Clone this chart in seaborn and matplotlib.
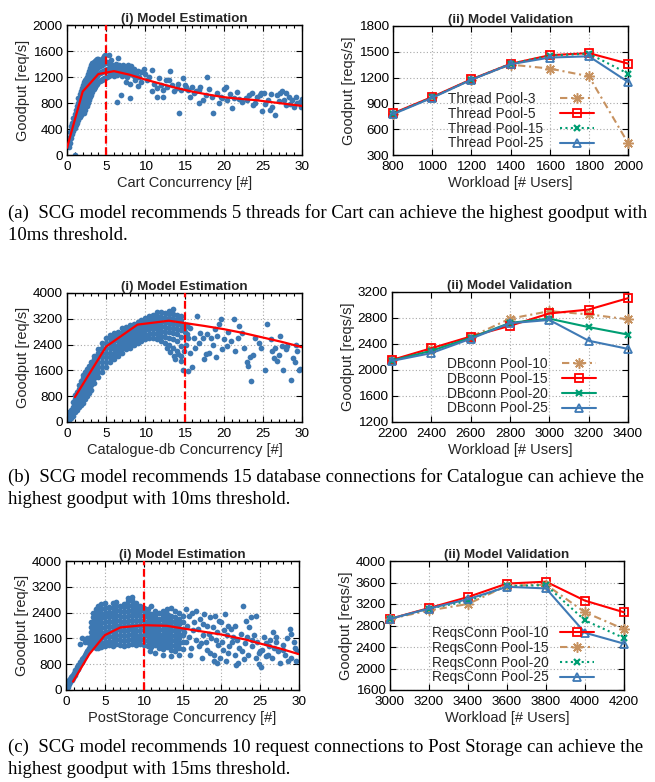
import matplotlib
matplotlib.use("Agg")
import matplotlib.pyplot as plt
from matplotlib.ticker import MultipleLocator
import seaborn as sns
import pandas as pd

# ---------------- data ----------------
conc_ticks = [0, 5, 10, 15, 20, 25, 30]

# (a) Cart
cart_curve_x = [0, 2, 4, 6, 8, 10, 12, 14, 16, 18, 20, 22, 24, 26, 28, 30]
cart_curve_y = [110, 975, 1245, 1290, 1235, 1160, 1095, 1030, 975, 930, 890, 865, 845, 815, 785, 755]
cart_best = 5
cart_rise_cols = [
    (0.2, [120, 220]), (0.35, [180, 280, 360]), (0.5, [260, 360, 440]),
    (0.65, [320, 420, 500]), (0.8, [370, 470, 570]), (1.0, [5, 420, 520, 630]),
    (1.15, [460, 570, 690]), (1.3, [500, 620, 750]), (1.45, [540, 660, 800, 880]),
    (1.6, [580, 700, 820, 940]), (1.75, [610, 740, 870, 990]), (1.9, [640, 780, 910, 1030]),
    (2.05, [670, 810, 950, 1080]), (2.2, [640, 760, 880, 1000, 1120]),
    (2.35, [700, 820, 940, 1060, 1160]), (2.5, [750, 870, 990, 1110, 1200]),
    (2.65, [800, 920, 1040, 1160, 1250]), (2.8, [850, 970, 1090, 1210, 1300]),
    (2.95, [890, 1010, 1130, 1250, 1340]), (3.1, [930, 1050, 1170, 1290, 1380]),
    (3.25, [970, 1090, 1210, 1330, 1410]), (3.4, [1010, 1130, 1250, 1360, 1430]),
    (3.55, [1050, 1170, 1290, 1390, 1450]), (3.7, [1080, 1200, 1320, 1410, 1460]),
    (3.85, [1100, 1220, 1340, 1430, 1470]), (4.0, [1120, 1240, 1360, 1440, 1480]),
    (4.15, [1140, 1260, 1370, 1450]), (4.3, [1150, 1270, 1380, 1460]),
    (4.45, [1160, 1280, 1390, 1480]), (4.6, [1170, 1290, 1400, 1500]),
    (4.75, [1180, 1300, 1410, 1520]), (4.9, [1190, 1310, 1420, 1540]),
    (5.05, [1200, 1320, 1430]),
]
cart_tail_pts = [
    (5.2, 1300), (5.3, 1400), (5.3, 1540), (5.4, 1220), (5.5, 1340), (5.6, 1460), (5.7, 1260),
    (5.8, 1380), (5.9, 1300), (6.0, 1220), (6.1, 1350), (6.2, 1280), (6.3, 1400), (6.4, 1230),
    (6.5, 1320), (6.5, 1490), (6.6, 1380), (6.8, 1260), (6.9, 1340), (7.0, 1210), (7.1, 1380),
    (7.2, 1300), (7.3, 1240), (7.4, 1360), (7.5, 1280), (7.6, 1340), (7.7, 1200), (7.8, 1380),
    (7.9, 1300), (8.0, 1340), (8.1, 1250), (8.2, 1370), (8.3, 1300), (8.5, 1220), (8.6, 1330),
    (8.8, 1260), (9.0, 1300), (9.2, 1200), (9.5, 1280), (9.8, 1320), (10.0, 1250),
    (6.4, 820), (6.9, 920), (8.0, 870), (8.0, 1100), (9.1, 1060), (7.5, 1130), (8.7, 1150),
    (9.5, 1120), (10.2, 1150), (10.8, 1310), (11.1, 1100), (11.5, 1030), (11.5, 900), (10.9, 980),
    (12.3, 900), (12.0, 1080), (12.6, 1150), (13.1, 1300), (13.4, 1080), (14.0, 1030), (14.3, 640),
    (14.8, 1180), (14.6, 1000), (13.6, 980), (12.8, 1050), (11.8, 1180), (10.5, 1200),
    (15.2, 1050), (15.7, 900), (16.2, 950), (16.0, 1040), (16.8, 800), (17.0, 1050), (17.4, 850),
    (17.9, 1200), (18.1, 1020), (18.7, 640), (19.1, 950), (19.4, 800), (19.6, 900), (20.0, 1020),
    (20.3, 1040), (20.4, 850), (21.0, 720), (21.7, 970), (22.3, 820), (22.8, 870), (23.2, 920),
    (23.6, 950), (23.8, 770), (24.3, 900), (24.6, 920), (24.9, 670), (25.1, 950), (25.7, 850),
    (26.2, 745), (26.5, 615), (26.8, 920), (27.2, 960), (27.5, 980), (27.7, 850), (28.0, 770),
    (28.3, 900), (28.7, 850), (29.0, 745), (29.4, 800), (29.7, 820), (29.9, 745), (30.0, 860),
    (15.5, 1000), (16.5, 980), (18.5, 900), (19.8, 870), (21.3, 880), (22.0, 860), (24.0, 800),
    (25.3, 780), (26.0, 940), (27.0, 830), (28.5, 780), (29.2, 900), (17.7, 920), (20.8, 940),
    (23.0, 840), (25.9, 700), (27.9, 960), (24.8, 960), (15.0, 1070), (14.2, 1100), (12.3, 1000),
    (13.0, 1150), (16.9, 1000),
]

# (b) Catalogue-db
cat_curve_x = [1, 5, 9, 13, 15, 17.5, 20, 22.5, 25, 27.5, 30]
cat_curve_y = [770, 2340, 3020, 3140, 3070, 2980, 2880, 2760, 2620, 2480, 2320]
cat_best = 15
cat_band_cols = [
    (0.1, [20, 120]), (0.3, [60, 180, 300]), (0.5, [120, 250, 380]),
    (0.75, [200, 340, 480, 620]), (1.0, [300, 440, 580, 720, 850]),
    (1.25, [380, 520, 660, 800, 940]), (1.5, [460, 600, 740, 880, 1020, 1150]),
    (1.75, [520, 680, 830, 980, 1130, 1280]), (2.0, [600, 750, 900, 1050, 1200, 1350, 1450]),
    (2.25, [700, 850, 1000, 1150, 1300, 1450, 1550]), (2.5, [800, 950, 1100, 1250, 1400, 1550, 1650]),
    (2.75, [900, 1050, 1200, 1350, 1500, 1650, 1750]), (3.0, [1000, 1150, 1300, 1450, 1600, 1750, 1850]),
    (3.5, [1200, 1350, 1500, 1650, 1800, 1950, 2050]), (4.0, [1400, 1550, 1700, 1850, 2000, 2150, 2250]),
    (4.5, [1550, 1700, 1850, 2000, 2150, 2300, 2450]), (5.0, [1700, 1850, 2000, 2150, 2300, 2450, 2600]),
    (5.5, [1850, 2000, 2150, 2300, 2450, 2600, 2700]), (6.0, [1950, 2100, 2250, 2400, 2550, 2700, 2750]),
    (6.5, [2050, 2200, 2350, 2500, 2650, 2800]), (7.0, [2150, 2300, 2450, 2600, 2750, 2900]),
    (7.5, [2250, 2400, 2550, 2700, 2850, 2950]), (8.0, [2300, 2450, 2600, 2750, 2900, 3000]),
    (8.5, [2400, 2550, 2700, 2850, 3000, 3050]), (9.0, [2450, 2600, 2750, 2900, 3050, 3100]),
    (9.5, [2500, 2650, 2800, 2950, 3100, 3150]), (10.0, [2560, 2700, 2840, 2980, 3120, 3240]),
    (10.5, [2600, 2740, 2880, 3020, 3160, 3290]), (11.0, [2620, 2760, 2900, 3040, 3180, 3330]),
    (11.5, [2560, 2720, 2870, 3010, 3150, 3290, 3400]), (12.0, [2500, 2680, 2830, 2970, 3110, 3250, 3400]),
    (12.5, [2450, 2640, 2800, 2950, 3090, 3230, 3380]),
    (13.0, [2400, 2600, 2780, 2930, 3070, 3210, 3350, 3450]),
    (13.5, [2300, 2560, 2760, 2900, 3050, 3200, 3350, 3500]),
    (14.0, [2200, 2500, 2720, 2880, 3030, 3180, 3330]),
    (14.5, [2050, 2350, 2640, 2850, 3000, 3150, 3280]),
]
cat_tail_pts = [
    (1.2, 690), (13.2, 2180), (13.8, 1950), (14.2, 2100), (14.8, 1610), (14.6, 1900), (12.8, 2300),
    (13.6, 2050), (14.9, 2200), (15.2, 2400), (15.4, 2600), (15.0, 2800), (15.3, 3000), (15.1, 2950),
    (15.5, 1590), (16.0, 1690), (15.7, 2150), (16.6, 3280), (17.0, 2770), (17.3, 2620), (17.5, 1950),
    (17.7, 2100), (17.9, 2720), (18.1, 2150), (18.4, 2620), (18.9, 2870), (19.2, 2670), (19.4, 3030),
    (19.6, 3180), (19.8, 2250), (20.0, 2560), (20.4, 2360), (20.9, 2510), (21.3, 3180), (21.8, 2620),
    (22.0, 2970), (22.3, 2770), (22.6, 2310), (23.0, 1850), (23.1, 1730), (23.3, 2000), (23.5, 1260),
    (23.8, 2080), (24.0, 2620), (24.5, 2460), (25.3, 1620), (25.5, 3030), (26.0, 2560), (26.2, 2200),
    (26.4, 1990), (26.6, 2310), (26.8, 1890), (27.0, 2080), (27.2, 2670), (27.6, 1620), (27.9, 2250),
    (28.1, 2360), (28.6, 1290), (28.9, 1990), (29.1, 1850), (29.4, 2200), (29.6, 1620), (29.8, 1650),
    (15.3, 2720), (15.7, 2920), (16.2, 2620), (16.4, 2300), (16.8, 2450), (18.6, 2400), (19.0, 2000),
    (20.6, 2800), (21.5, 2200), (24.8, 2300), (27.4, 2350), (29.2, 2400),
]

# (c) PostStorage
post_curve_x = [0.9, 3, 5, 7, 10, 13, 15, 20, 23, 25, 27.5, 30]
post_curve_y = [260, 1110, 1700, 1940, 2010, 1990, 1910, 1720, 1570, 1440, 1290, 1110]
post_best = 10
post_rise_pts = [
    (0.1, 100), (0.2, 80), (0.2, 180), (0.3, 140), (0.3, 240), (0.4, 200), (0.4, 300), (0.5, 250),
    (0.5, 350), (0.6, 300), (0.6, 400), (0.7, 350), (0.8, 300), (0.8, 420), (0.9, 380), (0.9, 470),
    (1.0, 430), (1.0, 520), (1.1, 480), (1.2, 520), (1.2, 610), (1.3, 560), (1.4, 620), (1.4, 700),
    (1.5, 650), (1.6, 700), (1.6, 780), (1.7, 740), (1.8, 800), (1.8, 880), (1.9, 850), (2.0, 880),
    (2.0, 960), (2.1, 930), (2.2, 980), (2.3, 1020), (2.4, 1060), (2.5, 1100), (2.6, 1150),
    (2.7, 1200), (2.8, 1250), (2.9, 1300), (1.8, 1440), (2.1, 1600), (2.4, 1500), (2.7, 1620),
]
post_blob_cols = [
    (2.9, [1450, 1600]),
    (3.2, [1350, 1500, 1650, 1800, 1950, 2100]),
    (3.5, [1350, 1500, 1650, 1800, 1950, 2100, 2250, 2400]),
    (3.8, [1300, 1450, 1600, 1750, 1900, 2050, 2200, 2350, 2500]),
    (4.1, [1300, 1450, 1600, 1750, 1900, 2050, 2200, 2350, 2500, 2620]),
    (4.5, [1320, 1470, 1620, 1770, 1920, 2070, 2220, 2370, 2520, 2680]),
    (5.0, [1350, 1500, 1650, 1800, 1950, 2100, 2250, 2400, 2550, 2700]),
    (5.5, [1380, 1530, 1680, 1830, 1980, 2130, 2280, 2430, 2580]),
    (6.0, [1350, 1500, 1650, 1800, 1950, 2100, 2250, 2400, 2550, 2700]),
    (6.5, [1420, 1570, 1720, 1870, 2020, 2170, 2320, 2470, 2620, 2740]),
    (7.0, [1400, 1550, 1700, 1850, 2000, 2150, 2300, 2450, 2600]),
    (7.5, [1370, 1520, 1670, 1820, 1970, 2120, 2270, 2420, 2570, 2680]),
    (8.0, [1400, 1550, 1700, 1850, 2000, 2150, 2300, 2450, 2600, 2750, 2850]),
    (8.5, [1430, 1580, 1730, 1880, 2030, 2180, 2330, 2480, 2630, 2780, 2880]),
    (9.0, [1380, 1530, 1680, 1830, 1980, 2130, 2280, 2430, 2580, 2700]),
    (9.5, [1420, 1570, 1720, 1870, 2020, 2170, 2320, 2470, 2600]),
    (10.0, [1400, 1550, 1700, 1850, 2000, 2150, 2300, 2450, 2550]),
    (10.5, [1360, 1510, 1660, 1810, 1960, 2110, 2260, 2400, 2500]),
    (11.0, [1320, 1470, 1620, 1770, 1920, 2070, 2220, 2370, 2600]),
    (11.5, [1380, 1530, 1680, 1830, 1980, 2130, 2280, 2450]),
    (12.0, [1300, 1450, 1600, 1750, 1900, 2050, 2200, 2380]),
    (12.5, [1260, 1410, 1560, 1710, 1860, 2010, 2160, 2300, 2450]),
    (13.0, [1320, 1470, 1620, 1770, 1920, 2070, 2220, 2370, 2500]),
    (13.5, [1250, 1400, 1550, 1700, 1850, 2000, 2150, 2300, 2550]),
    (14.0, [1220, 1370, 1520, 1670, 1820, 1970, 2120, 2270, 2450]),
    (14.5, [1300, 1450, 1600, 1750, 1900, 2050, 2200, 2400]),
    (15.0, [1280, 1480, 1700, 1900, 2100, 2300]),
]
post_tail_pts = [
    (11.5, 1150), (12.5, 1100), (13.5, 1050), (14.5, 1100), (10.8, 1200),
    (15.5, 2500), (15.8, 2300), (16.2, 2400), (16.5, 2100), (16.8, 2450), (17.0, 1900), (17.3, 2200),
    (17.6, 1700), (17.8, 2350), (18.0, 1500), (18.2, 2000), (18.5, 2250), (18.7, 1600), (19.0, 1100),
    (19.0, 900), (19.2, 2300), (19.4, 1800), (19.6, 1400), (19.8, 1000), (20.0, 2100), (20.2, 1250),
    (20.5, 2350), (20.7, 1700), (20.9, 1150), (21.2, 1900), (21.4, 1500), (21.7, 2000), (21.9, 760),
    (22.1, 850), (22.3, 1300), (22.5, 1750), (22.8, 2620), (23.0, 1450), (23.2, 2150), (23.4, 1100),
    (23.6, 1950), (23.8, 2250), (24.0, 1350), (24.2, 1700), (24.4, 1000), (24.6, 1500), (24.9, 800),
    (25.1, 700), (25.3, 1250), (25.5, 1650), (25.8, 1450), (26.0, 1100), (26.3, 1550), (26.6, 1800),
    (26.8, 1300), (27.1, 1500), (27.3, 1200), (27.6, 850), (27.9, 1400), (28.2, 1100), (28.5, 1600),
    (28.8, 1900), (29.0, 1000), (29.3, 1500), (29.6, 900), (29.8, 1200),
    (15.2, 1800), (15.4, 1500), (15.6, 2000), (15.9, 1650), (16.1, 1300), (16.4, 1850), (16.7, 1550),
    (17.1, 1350), (17.4, 1450), (17.7, 2050), (18.1, 1250), (18.4, 1750), (18.9, 1950), (19.3, 1550),
    (19.7, 2150), (20.1, 1500), (20.4, 1850), (20.8, 2000), (21.0, 1350), (21.5, 1650), (22.0, 1550),
    (22.6, 1200), (23.3, 1650), (23.9, 1550), (24.5, 2300), (25.0, 1200), (25.7, 1050), (26.2, 1350),
    (27.0, 1650), (28.0, 1250), (29.0, 1750), (29.5, 1300), (16.0, 1100), (17.5, 1000), (18.6, 1150),
    (19.5, 850), (20.6, 900), (21.8, 1100), (22.9, 950), (24.8, 1150), (26.5, 1000), (28.6, 900),
]

# validation panels
thread_workload = [800, 1000, 1200, 1400, 1600, 1800, 2000]
thread_labels = ["Thread Pool-3  ", "Thread Pool-5  ", "Thread Pool-15", "Thread Pool-25"]
thread_pool3 = [780, 970, 1177, 1351, 1305, 1216, 440]
thread_pool5 = [785, 975, 1180, 1360, 1460, 1485, 1363]
thread_pool15 = [780, 970, 1177, 1360, 1455, 1479, 1247]
thread_pool25 = [775, 965, 1175, 1355, 1433, 1448, 1150]

db_workload = [2200, 2400, 2600, 2800, 3000, 3200, 3400]
db_labels = ["DBconn Pool-10", "DBconn Pool-15", "DBconn Pool-20", "DBconn Pool-25"]
db_pool10 = [2150, 2320, 2508, 2790, 2905, 2856, 2780]
db_pool15 = [2155, 2335, 2515, 2680, 2870, 2930, 3105]
db_pool20 = [2145, 2295, 2495, 2725, 2790, 2660, 2545]
db_pool25 = [2140, 2260, 2480, 2720, 2770, 2450, 2325]

req_workload = [3000, 3200, 3400, 3600, 3800, 4000, 4200]
req_labels = ["ReqsConn Pool-10", "ReqsConn Pool-15", "ReqsConn Pool-20", "ReqsConn Pool-25"]
req_pool10 = [2923, 3125, 3330, 3580, 3615, 3262, 3046]
req_pool15 = [2923, 3080, 3200, 3540, 3560, 3046, 2732]
req_pool20 = [2923, 3115, 3255, 3535, 3550, 2895, 2566]
req_pool25 = [2923, 3115, 3290, 3520, 3490, 2665, 2462]

captions = [
    ("(a)  SCG model recommends 5 threads for Cart can achieve the highest goodput with",
     "10ms threshold."),
    ("(b)  SCG model recommends 15 database connections for Catalogue can achieve the",
     "highest goodput with 10ms threshold."),
    ("(c)  SCG model recommends 10 request connections to Post Storage can achieve the",
     "highest goodput with 15ms threshold."),
]

# ---------------- style ----------------
sns.set_theme(style="ticks")
plt.rcParams["font.family"] = ["Liberation Sans", "DejaVu Sans"]
plt.rcParams["axes.unicode_minus"] = False

SCAT = "#3d78b2"
RED = "#ff0000"
TAN = "#c79260"
GREEN = "#009e73"
BLUE = "#3f7ab5"
DASHDOT = (0, (3.5, 1.8, 1.0, 1.8))
DOTTED = (0, (1.0, 1.6))

W, H = 655, 782
fig = plt.figure(figsize=(W / 100, H / 100), dpi=100)


def add_ax(l, t, r, b):
    return fig.add_axes([l / W, 1 - b / H, (r - l) / W, (b - t) / H])


def style(ax, xlim, ylim, xstep, ystep, xminor=None):
    ax.set_xlim(*xlim)
    ax.set_ylim(*ylim)
    ax.xaxis.set_major_locator(MultipleLocator(xstep))
    ax.yaxis.set_major_locator(MultipleLocator(ystep))
    if xminor:
        ax.xaxis.set_minor_locator(MultipleLocator(xminor))
    ax.grid(True, which="major", color="#a8a8a8", linestyle=(0, (1, 2)), linewidth=0.8)
    ax.set_axisbelow(True)
    ax.tick_params(which="both", direction="in", top=True, right=True, colors="black",
                   labelsize=9.7, width=0.8)
    ax.tick_params(axis="x", pad=4.5)
    ax.tick_params(axis="y", pad=3)
    ax.tick_params(which="major", length=4)
    ax.tick_params(which="minor", length=2)
    for sp in ax.spines.values():
        sp.set_color("black")
        sp.set_linewidth(1.0)


def cols_to_xy(cols):
    xs, ys = [], []
    for x, yl in cols:
        for y in yl:
            xs.append(x)
            ys.append(y)
    return xs, ys


def estimation(ax, pts_x, pts_y, cx, cy, best, ymax, ystep, xlabel):
    df = pd.DataFrame({"c": pts_x, "g": pts_y})
    sns.scatterplot(data=df, x="c", y="g", ax=ax, s=17, color=SCAT, linewidth=0, alpha=1.0,
                    zorder=2, clip_on=True)
    sns.lineplot(x=cx, y=cy, ax=ax, color=RED, linewidth=1.6, sort=False, errorbar=None, zorder=3)
    ax.axvline(best, color=RED, linewidth=1.6, linestyle=(0, (3.5, 1.6)), zorder=4)
    style(ax, (0, 30), (0, ymax), 5, ystep, xminor=1)
    ax.set_xticks(conc_ticks)
    ax.set_title("(i) Model Estimation", fontsize=9.6, fontweight="bold", pad=2)
    ax.set_xlabel(xlabel, fontsize=10.5, labelpad=2)
    ax.set_ylabel("Goodput [req/s]", fontsize=10.5, labelpad=2)


def validation(ax, x, series, labels, kinds, xlim, ylim, xstep, ystep, leg_anchor, textpad):
    for vals, lab, (col, ls, mk, ms, mew, mfc) in zip(series, labels, kinds):
        sns.lineplot(x=x, y=vals, ax=ax, color=col, linewidth=1.5, linestyle=ls, marker=mk,
                     markersize=ms, markeredgewidth=mew, markeredgecolor=col,
                     markerfacecolor=mfc, label=lab, sort=False, errorbar=None, clip_on=False,
                     zorder=3)
    style(ax, xlim, ylim, xstep, ystep)
    ax.set_title("(ii) Model Validation", fontsize=9.6, fontweight="bold", pad=2)
    ax.set_xlabel("Workload [# Users]", fontsize=10.5, labelpad=2)
    ax.set_ylabel("Goodput [reqs/s]", fontsize=10.5, labelpad=2)
    handles, labs = ax.get_legend_handles_labels()
    ax.legend(handles, labs, loc="upper left", bbox_to_anchor=leg_anchor, frameon=False,
              markerfirst=False, fontsize=9.9, handlelength=2.5, handletextpad=textpad,
              labelspacing=0.06, borderpad=0, borderaxespad=0, numpoints=1)


ASTER = (8, 2, 0)
k_tan = (TAN, DASHDOT, ASTER, 7.5, 1.1, TAN)
k_red = (RED, "-", "s", 5.2, 1.3, "none")
k_green_dot = (GREEN, DOTTED, "x", 5, 1.6, GREEN)
k_green = (GREEN, "-", "x", 5, 1.6, GREEN)
k_blue = (BLUE, "-", "^", 5.6, 1.3, "none")

# ---- row (a)
ax = add_ax(67, 25, 302, 155)
rx, ry = cols_to_xy(cart_rise_cols)
tx = [p[0] for p in cart_tail_pts]
ty = [p[1] for p in cart_tail_pts]
estimation(ax, rx + tx, ry + ty, cart_curve_x, cart_curve_y, cart_best, 2000, 400,
           "Cart Concurrency [#]")

ax = add_ax(393, 26, 628, 155)
validation(ax, thread_workload, [thread_pool3, thread_pool5, thread_pool15, thread_pool25],
           thread_labels, [k_tan, k_red, k_green_dot, k_blue], (800, 2000), (300, 1800), 200, 300,
           ((448 - 393) / 235, (155 - 92) / 129), 1.2)

# ---- row (b)
ax = add_ax(67, 293, 302, 422)
rx, ry = cols_to_xy(cat_band_cols)
tx = [p[0] for p in cat_tail_pts]
ty = [p[1] for p in cat_tail_pts]
estimation(ax, rx + tx, ry + ty, cat_curve_x, cat_curve_y, cat_best, 4000, 800,
           "Catalogue-db Concurrency [#]")

ax = add_ax(392, 292, 628, 422)
validation(ax, db_workload, [db_pool10, db_pool15, db_pool20, db_pool25],
           db_labels, [k_tan, k_red, k_green, k_blue], (2200, 3400), (1200, 3200), 200, 400,
           ((447 - 392) / 236, (422 - 357) / 130), 1.0)

# ---- row (c)
ax = add_ax(66, 561, 299, 690)
bx, by = cols_to_xy(post_blob_cols)
px = [p[0] for p in post_rise_pts] + bx + [p[0] for p in post_tail_pts]
py = [p[1] for p in post_rise_pts] + by + [p[1] for p in post_tail_pts]
estimation(ax, px, py, post_curve_x, post_curve_y, post_best, 4000, 800,
           "PostStorage Concurrency [#]")

ax = add_ax(390, 561, 624, 690)
validation(ax, req_workload, [req_pool10, req_pool15, req_pool20, req_pool25],
           req_labels, [k_red, k_tan, k_green_dot, k_blue], (3000, 4200), (1600, 4000), 200, 400,
           ((432 - 390) / 234, (690 - 626) / 129), 0.8)

# ---- captions
cap_y = [(213, 236), (477, 500), (747, 770)]
for (l1, l2), (y1, y2) in zip(captions, cap_y):
    fig.text(8 / W, 1 - y1 / H, l1, ha="left", va="center", fontsize=13.5,
             family=["Liberation Serif", "DejaVu Serif"], color="black")
    fig.text(8 / W, 1 - y2 / H, l2, ha="left", va="center", fontsize=13.5,
             family=["Liberation Serif", "DejaVu Serif"], color="black")

fig.savefig("out.png", dpi=100)
